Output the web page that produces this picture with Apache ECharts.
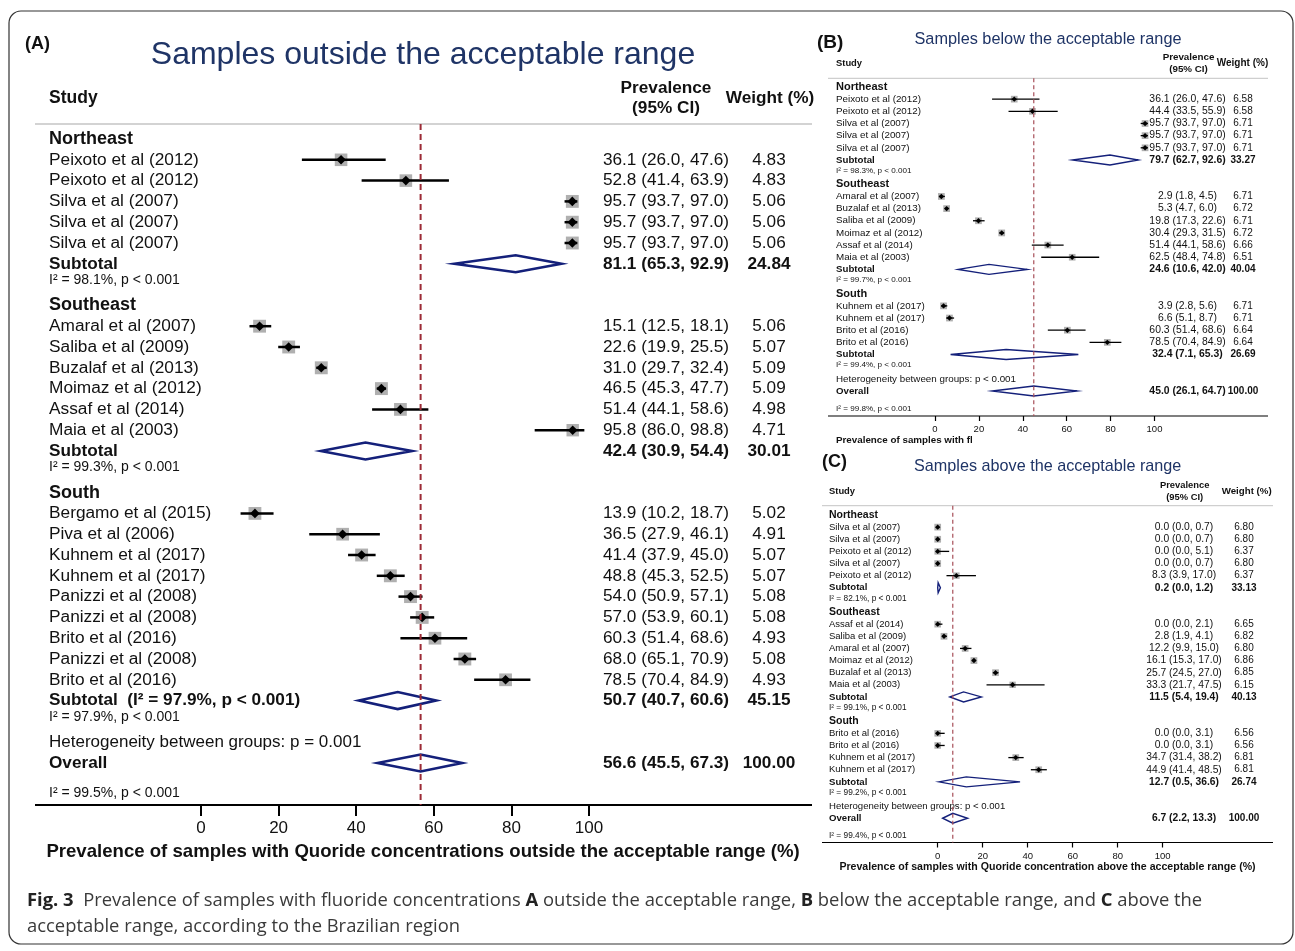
<!DOCTYPE html>
<html>
<head>
<meta charset="utf-8">
<title>Fig. 3 – fluoride concentrations forest plots</title>
<script src="https://cdn.jsdelivr.net/npm/echarts@6.0.0/dist/echarts.min.js"></script>
<style>
  html, body { margin: 0; padding: 0; background: #fff; }
  #chart { width: 1295px; height: 951px; }
</style>
</head>
<body>
<div id="chart"></div>
<script>
// ---------------- data ----------------
const regionNames = ['Northeast', 'Southeast', 'South'];

// (A) outside the acceptable range
const studyA = ['Peixoto et al (2012)', 'Peixoto et al (2012)', 'Silva et al (2007)', 'Silva et al (2007)', 'Silva et al (2007)',
  'Amaral et al (2007)', 'Saliba et al (2009)', 'Buzalaf et al (2013)', 'Moimaz et al (2012)', 'Assaf et al (2014)', 'Maia et al (2003)',
  'Bergamo et al (2015)', 'Piva et al (2006)', 'Kuhnem et al (2017)', 'Kuhnem et al (2017)', 'Panizzi et al (2008)', 'Panizzi et al (2008)',
  'Brito et al (2016)', 'Panizzi et al (2008)', 'Brito et al (2016)'];
const estA = [36.1, 52.8, 95.7, 95.7, 95.7, 15.1, 22.6, 31.0, 46.5, 51.4, 95.8, 13.9, 36.5, 41.4, 48.8, 54.0, 57.0, 60.3, 68.0, 78.5];
const lowA = [26.0, 41.4, 93.7, 93.7, 93.7, 12.5, 19.9, 29.7, 45.3, 44.1, 86.0, 10.2, 27.9, 37.9, 45.3, 50.9, 53.9, 51.4, 65.1, 70.4];
const highA = [47.6, 63.9, 97.0, 97.0, 97.0, 18.1, 25.5, 32.4, 47.7, 58.6, 98.8, 18.7, 46.1, 45.0, 52.5, 57.1, 60.1, 68.6, 70.9, 84.9];
const weightA = [4.83, 4.83, 5.06, 5.06, 5.06, 5.06, 5.07, 5.09, 5.09, 4.98, 4.71, 5.02, 4.91, 5.07, 5.07, 5.08, 5.08, 4.93, 5.08, 4.93];
const groupSizeA = [5, 6, 9];
const subLabelA = ['Subtotal', 'Subtotal', 'Subtotal  (I² = 97.9%, p < 0.001)'];
const subEstA = [81.1, 42.4, 50.7];
const subLowA = [65.3, 30.9, 40.7];
const subHighA = [92.9, 54.4, 60.6];
const subWeightA = [24.84, 30.01, 45.15];
const subI2A = ['I² = 98.1%, p < 0.001', 'I² = 99.3%, p < 0.001', 'I² = 97.9%, p < 0.001'];
const overallA = [56.6, 45.5, 67.3]; // estimate, lower, upper
const hetA = 'Heterogeneity between groups: p = 0.001';
const overallI2A = 'I² = 99.5%, p < 0.001';

// (B) below the acceptable range
const studyB = ['Peixoto et al (2012)', 'Peixoto et al (2012)', 'Silva et al (2007)', 'Silva et al (2007)', 'Silva et al (2007)',
  'Amaral et al (2007)', 'Buzalaf et al (2013)', 'Saliba et al (2009)', 'Moimaz et al (2012)', 'Assaf et al (2014)', 'Maia et al (2003)',
  'Kuhnem et al (2017)', 'Kuhnem et al (2017)', 'Brito et al (2016)', 'Brito et al (2016)'];
const estB = [36.1, 44.4, 95.7, 95.7, 95.7, 2.9, 5.3, 19.8, 30.4, 51.4, 62.5, 3.9, 6.6, 60.3, 78.5];
const lowB = [26.0, 33.5, 93.7, 93.7, 93.7, 1.8, 4.7, 17.3, 29.3, 44.1, 48.4, 2.8, 5.1, 51.4, 70.4];
const highB = [47.6, 55.9, 97.0, 97.0, 97.0, 4.5, 6.0, 22.6, 31.5, 58.6, 74.8, 5.6, 8.7, 68.6, 84.9];
const weightB = [6.58, 6.58, 6.71, 6.71, 6.71, 6.71, 6.72, 6.71, 6.72, 6.66, 6.51, 6.71, 6.71, 6.64, 6.64];
const groupSizeB = [5, 6, 4];
const subLabelB = ['Subtotal', 'Subtotal', 'Subtotal'];
const subEstB = [79.7, 24.6, 32.4];
const subLowB = [62.7, 10.6, 7.1];
const subHighB = [92.6, 42.0, 65.3];
const subWeightB = [33.27, 40.04, 26.69];
const subI2B = ['I² = 98.3%, p < 0.001', 'I² = 99.7%, p < 0.001', 'I² = 99.4%, p < 0.001'];
const overallB = [45.0, 26.1, 64.7];
const hetB = 'Heterogeneity between groups: p < 0.001';
const overallI2B = 'I² = 99.8%, p < 0.001';

// (C) above the acceptable range
const studyC = ['Silva et al (2007)', 'Silva et al (2007)', 'Peixoto et al (2012)', 'Silva et al (2007)', 'Peixoto et al (2012)',
  'Assaf et al (2014)', 'Saliba et al (2009)', 'Amaral et al (2007)', 'Moimaz et al (2012)', 'Buzalaf et al (2013)', 'Maia et al (2003)',
  'Brito et al (2016)', 'Brito et al (2016)', 'Kuhnem et al (2017)', 'Kuhnem et al (2017)'];
const estC = [0.0, 0.0, 0.0, 0.0, 8.3, 0.0, 2.8, 12.2, 16.1, 25.7, 33.3, 0.0, 0.0, 34.7, 44.9];
const lowC = [0.0, 0.0, 0.0, 0.0, 3.9, 0.0, 1.9, 9.9, 15.3, 24.5, 21.7, 0.0, 0.0, 31.4, 41.4];
const highC = [0.7, 0.7, 5.1, 0.7, 17.0, 2.1, 4.1, 15.0, 17.0, 27.0, 47.5, 3.1, 3.1, 38.2, 48.5];
const weightC = [6.80, 6.80, 6.37, 6.80, 6.37, 6.65, 6.82, 6.80, 6.86, 6.85, 6.15, 6.56, 6.56, 6.81, 6.81];
const groupSizeC = [5, 6, 4];
const subLabelC = ['Subtotal', 'Subtotal', 'Subtotal'];
const subEstC = [0.2, 11.5, 12.7];
const subLowC = [0.0, 5.4, 0.5];
const subHighC = [1.2, 19.4, 36.6];
const subWeightC = [33.13, 40.13, 26.74];
const subI2C = ['I² = 82.1%, p < 0.001', 'I² = 99.1%, p < 0.001', 'I² = 99.2%, p < 0.001'];
const overallC = [6.7, 2.2, 13.3];
const hetC = 'Heterogeneity between groups: p < 0.001';
const overallI2C = 'I² = 99.4%, p < 0.001';

const xTicks = [0, 20, 40, 60, 80, 100];

// ---------------- layout ----------------
const FONT = 'Liberation Sans, Arial, Helvetica, sans-serif';
const NAVY = '#14207a';

// pixel geometry of each panel (x of 0 and 100, first row, row step, ...)
const geoA = { x0: 201, x100: 589, row0: 139, step: 20.8, top: 124, axisY: 805, lineL: 35, lineR: 812,
  nameX: 49, ciX: 666, wX: 769, fName: 17.3, fRegion: 18, fBold: 17.2, fCI: 17.2, fW: 17.2, fI2: 14, fHet: 17,
  box: 5.72, dot: 4.8, dia: 8.5, ciW: 2.5, diaW: 2.6, refW: 2, refDash: [6, 4], refColor: '#9c2b36',
  subI2: 0.8, ovI2: 1.45, tickLen: 11, tickW: 2, tickFont: 17, tickMargin: 15, axisW: 2 };
const geoB = { x0: 935, x100: 1154.5, row0: 87, step: 12.16, top: 78.3, axisY: 416, lineL: 828, lineR: 1268,
  nameX: 836, ciX: 1187.5, wX: 1243, fName: 9.8, fRegion: 11, fBold: 9.7, fCI: 10.4, fW: 10, fI2: 8.1, fHet: 9.8,
  box: 2.6, dot: 2.7, dia: 5, ciW: 1.3, diaW: 1.4, refW: 1.2, refDash: [4, 3], refColor: '#a8505a',
  subI2: 0.88, ovI2: 1.45, tickLen: 5, tickW: 1.2, tickFont: 9.5, tickMargin: 8, axisW: 1.2 };
const geoC = { x0: 937.7, x100: 1162.7, row0: 515, step: 12.13, top: 505.7, axisY: 842.5, lineL: 822, lineR: 1273,
  nameX: 829, ciX: 1184, wX: 1244, fName: 9.5, fRegion: 10.5, fBold: 9.6, fCI: 10.3, fW: 10, fI2: 8.3, fHet: 9.6,
  box: 2.57, dot: 2.7, dia: 5, ciW: 1.3, diaW: 1.4, refW: 1.2, refDash: [4, 3], refColor: '#a8505a',
  subI2: 0.86, ovI2: 1.4, tickLen: 5, tickW: 1.2, tickFont: 9.5, tickMargin: 8.5, axisW: 1.2 };

// turn the arrays of one panel into plot rows
function buildRows(p, geo) {
  const rows = [];
  let r = 0, k = 0;
  p.sizes.forEach((n, g) => {
    rows.push({ kind: 'region', r, text: regionNames[g] });
    r++;
    for (let i = 0; i < n; i++, k++, r++) {
      rows.push({ kind: 'study', r, name: p.names[k], est: p.est[k], lo: p.lo[k], hi: p.hi[k], w: p.w[k] });
    }
    rows.push({ kind: 'sum', r, name: p.subLabel[g], est: p.subEst[g], lo: p.subLo[g], hi: p.subHi[g], w: p.subW[g] });
    rows.push({ kind: 'i2', r: r + geo.subI2, text: p.subI2[g] });
    r += 2;
  });
  rows.push({ kind: 'het', r, text: p.het });
  r++;
  rows.push({ kind: 'sum', r, name: 'Overall', est: p.overall[0], lo: p.overall[1], hi: p.overall[2], w: 100 });
  rows.push({ kind: 'i2', r: r + geo.ovI2, text: p.overallI2 });
  rows.push({ kind: 'ref', r: 0, est: p.overall[0] });
  return rows;
}

const rowsA = buildRows({ names: studyA, est: estA, lo: lowA, hi: highA, w: weightA, sizes: groupSizeA,
  subLabel: subLabelA, subEst: subEstA, subLo: subLowA, subHi: subHighA, subW: subWeightA, subI2: subI2A,
  overall: overallA, het: hetA, overallI2: overallI2A }, geoA);
const rowsB = buildRows({ names: studyB, est: estB, lo: lowB, hi: highB, w: weightB, sizes: groupSizeB,
  subLabel: subLabelB, subEst: subEstB, subLo: subLowB, subHi: subHighB, subW: subWeightB, subI2: subI2B,
  overall: overallB, het: hetB, overallI2: overallI2B }, geoB);
const rowsC = buildRows({ names: studyC, est: estC, lo: lowC, hi: highC, w: weightC, sizes: groupSizeC,
  subLabel: subLabelC, subEst: subEstC, subLo: subLowC, subHi: subHighC, subW: subWeightC, subI2: subI2C,
  overall: overallC, het: hetC, overallI2: overallI2C }, geoC);

const ciText = d => d.est.toFixed(1) + ' (' + d.lo.toFixed(1) + ', ' + d.hi.toFixed(1) + ')';

function textEl(x, y, s, size, bold, align) {
  return { type: 'text', style: { text: s, x, y, fill: '#111', fontSize: size, fontWeight: bold ? 'bold' : 'normal',
    fontFamily: FONT, align: align || 'left', textAlign: align || 'left', verticalAlign: 'middle', textVerticalAlign: 'middle' } };
}

function renderRow(d, g, api, yMin, yMax) {
  const y = api.coord([0, d.r])[1];
  const kids = [];
  if (d.kind === 'region') {
    kids.push(textEl(g.nameX, y, d.text, g.fRegion, true));
  } else if (d.kind === 'i2') {
    kids.push(textEl(g.nameX, y, d.text, g.fI2, false));
  } else if (d.kind === 'het') {
    kids.push(textEl(g.nameX, y, d.text, g.fHet, false));
  } else if (d.kind === 'study') {
    const c = api.coord([d.est, d.r]), a = api.coord([d.lo, d.r]), b = api.coord([d.hi, d.r]);
    const s = g.box * Math.sqrt(d.w);
    kids.push({ type: 'rect', shape: { x: c[0] - s / 2, y: y - s / 2, width: s, height: s }, style: { fill: '#b0b0b0' } });
    kids.push({ type: 'line', shape: { x1: a[0], y1: y, x2: b[0], y2: y }, style: { stroke: '#000', lineWidth: g.ciW } });
    kids.push({ type: 'polygon', shape: { points: [[c[0] - g.dot, y], [c[0], y - g.dot], [c[0] + g.dot, y], [c[0], y + g.dot]] },
      style: { fill: '#000' } });
    kids.push(textEl(g.nameX, y, d.name, g.fName, false));
    kids.push(textEl(g.ciX, y, ciText(d), g.fCI, false, 'center'));
    kids.push(textEl(g.wX, y, d.w.toFixed(2), g.fW, false, 'center'));
  } else if (d.kind === 'sum') {
    const c = api.coord([d.est, d.r]), a = api.coord([d.lo, d.r]), b = api.coord([d.hi, d.r]);
    kids.push({ type: 'polygon', shape: { points: [[a[0], y], [c[0], y - g.dia], [b[0], y], [c[0], y + g.dia]] },
      style: { fill: 'none', stroke: NAVY, lineWidth: g.diaW, lineJoin: 'miter' } });
    kids.push(textEl(g.nameX, y, d.name, g.fBold, true));
    kids.push(textEl(g.ciX, y, ciText(d), g.fCI, true, 'center'));
    kids.push(textEl(g.wX, y, d.w.toFixed(2), g.fW, true, 'center'));
  } else if (d.kind === 'ref') {
    const t = api.coord([d.est, yMin]), b = api.coord([d.est, yMax]);
    kids.push({ type: 'line', shape: { x1: t[0], y1: t[1], x2: b[0], y2: b[1] },
      style: { stroke: g.refColor, lineWidth: g.refW, lineDash: g.refDash } });
  }
  return { type: 'group', children: kids };
}

const geos = [geoA, geoB, geoC];
const allRows = [rowsA, rowsB, rowsC];
const yRange = geos.map(g => [(g.top - g.row0) / g.step, (g.axisY - g.row0) / g.step]);

const grids = geos.map(g => ({ left: g.x0, width: g.x100 - g.x0, top: g.top, height: g.axisY - g.top,
  containLabel: false, outerBoundsMode: 'none' }));

const xAxes = geos.map((g, i) => ({
  gridIndex: i, type: 'value', position: 'bottom', min: 0, max: 100, interval: 20,
  axisLine: { show: false, onZero: false },
  axisTick: { show: true, length: g.tickLen, lineStyle: { color: '#000', width: g.tickW }, customValues: xTicks },
  axisLabel: { show: true, margin: g.tickMargin, fontSize: g.tickFont, fontFamily: FONT, color: '#111', customValues: xTicks },
  splitLine: { show: false }
}));

const yAxes = geos.map((g, i) => ({
  gridIndex: i, type: 'value', inverse: true, min: yRange[i][0], max: yRange[i][1], show: false
}));

const series = allRows.map((rows, i) => ({
  type: 'custom', xAxisIndex: i, yAxisIndex: i, clip: false, silent: true,
  data: rows.map(d => [d.est || 0, d.r]),
  renderItem: (params, api) => renderRow(rows[params.dataIndex], geos[i], api, yRange[i][0], yRange[i][1])
}));

// static furniture: frame, titles, headers, rules, axis titles, caption
function gText(x, y, s, size, opts) {
  opts = opts || {};
  return { type: 'text', silent: true, style: { text: s, x, y, fontSize: size, fontFamily: opts.family || FONT,
    fontWeight: opts.bold ? 'bold' : 'normal', fill: opts.color || '#111',
    align: opts.align || 'left', textAlign: opts.align || 'left', verticalAlign: 'middle', textVerticalAlign: 'middle',
    rich: opts.rich } };
}
function gLine(x1, x2, y, color, w) {
  return { type: 'line', silent: true, shape: { x1, y1: y, x2, y2: y }, style: { stroke: color, lineWidth: w } };
}

const CAP_FONT = 'Open Sans, sans-serif';
const graphics = [
  { type: 'rect', silent: true, shape: { x: 9, y: 11, width: 1284, height: 933, r: 12 },
    style: { fill: 'none', stroke: '#333', lineWidth: 1.2 } },
  // panel A
  gText(25, 44, '(A)', 18, { bold: true }),
  gText(423, 55, 'Samples outside the acceptable range', 32, { color: '#1f3466', align: 'center' }),
  gText(49, 98, 'Study', 17.5, { bold: true }),
  gText(666, 88, 'Prevalence', 17.2, { bold: true, align: 'center' }),
  gText(666, 108, '(95% CI)', 17.2, { bold: true, align: 'center' }),
  gText(770, 98, 'Weight (%)', 17.2, { bold: true, align: 'center' }),
  gLine(geoA.lineL, geoA.lineR, geoA.top, '#c4c4c4', 1.6),
  gLine(geoA.lineL, geoA.lineR, geoA.axisY, '#000', geoA.axisW),
  gText(423, 852, 'Prevalence of samples with Quoride concentrations outside the acceptable range (%)', 18.6, { bold: true, align: 'center' }),
  // panel B
  gText(817, 43, '(B)', 19, { bold: true }),
  gText(1048, 40, 'Samples below the acceptable range', 16.3, { color: '#1f3466', align: 'center' }),
  gText(836, 63.3, 'Study', 9.4, { bold: true }),
  gText(1188.5, 57.7, 'Prevalence', 9.8, { bold: true, align: 'center' }),
  gText(1188.5, 69.3, '(95% CI)', 9.8, { bold: true, align: 'center' }),
  gText(1242.5, 63.3, 'Weight (%)', 10, { bold: true, align: 'center' }),
  gLine(geoB.lineL, geoB.lineR, geoB.top, '#c4c4c4', 1),
  gLine(geoB.lineL, geoB.lineR, geoB.axisY, '#000', geoB.axisW),
  gText(836, 440, 'Prevalence of samples with fl', 9.8, { bold: true }),
  // panel C
  gText(822, 462, '(C)', 18, { bold: true }),
  gText(1047.7, 467, 'Samples above the acceptable range', 16.2, { color: '#1f3466', align: 'center' }),
  gText(829, 491, 'Study', 9.4, { bold: true }),
  gText(1184.7, 485, 'Prevalence', 9.4, { bold: true, align: 'center' }),
  gText(1184.7, 497.3, '(95% CI)', 9.4, { bold: true, align: 'center' }),
  gText(1246.7, 491, 'Weight (%)', 9.7, { bold: true, align: 'center' }),
  gLine(geoC.lineL, geoC.lineR, geoC.top, '#c4c4c4', 1),
  gLine(geoC.lineL, geoC.lineR, geoC.axisY, '#000', geoC.axisW),
  gText(1047.5, 867, 'Prevalence of samples with Quoride concentration above the acceptable range (%)', 10.6, { bold: true, align: 'center' }),
  // caption
  gText(27, 901, '{b|Fig. 3}  Prevalence of samples with fluoride concentrations {b|A} outside the acceptable range, {b|B} below the acceptable range, and {b|C} above the',
    18.4, { family: CAP_FONT, color: '#3a3a3a',
      rich: { b: { fontWeight: 'bold', fontFamily: CAP_FONT, fontSize: 18.4, fill: '#222', color: '#222' } } }),
  gText(27, 927, 'acceptable range, according to the Brazilian region', 18.4, { family: CAP_FONT, color: '#3a3a3a' })
];

const chart = echarts.init(document.getElementById('chart'), null, { renderer: 'canvas' });
chart.setOption({
  animation: false,
  backgroundColor: '#fff',
  grid: grids,
  xAxis: xAxes,
  yAxis: yAxes,
  series: series,
  graphic: { elements: graphics }
});
</script>
</body>
</html>
